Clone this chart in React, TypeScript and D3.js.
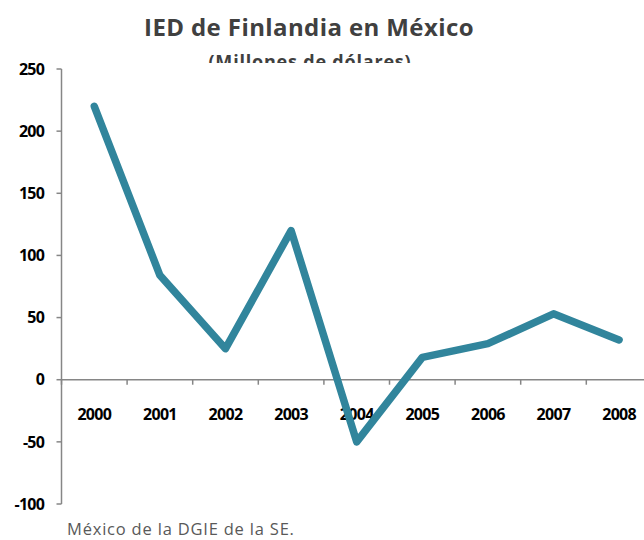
import * as d3 from 'd3'
import React from 'react'

const years = ['2000', '2001', '2002', '2003', '2004', '2005', '2006', '2007', '2008']
const ied = [220, 84, 25, 120, -50, 18, 29, 53, 32]
const yTicks = [250, 200, 150, 100, 50, 0, -50, -100]

const title = 'IED de Finlandia en México'
const subtitle = '(Millones de dólares)'
const footer = 'México de la DGIE de la SE.'

const App = (): JSX.Element => {
    const width = 644
    const height = 540
    const axisX = 61.5
    const font = '"Open Sans", sans-serif'

    const yScale = d3.scaleLinear().domain([-100, 250]).range([504, 69])
    const xScale = d3.scaleBand().domain(years).range([axisX, axisX + 65.6 * years.length])
    const zeroY = yScale(0)

    const line = d3
        .line<number>()
        .x((d, i) => (xScale(years[i]) as number) + xScale.bandwidth() / 2)
        .y((d) => yScale(d))

    // band boundaries for the category ticks
    const bounds = years.map((y) => xScale(y) as number).concat([xScale.range()[1]])

    return (
        <svg
            width={width}
            height={height}
            style={{ position: 'absolute', left: 0, top: 0, background: '#fff' }}
        >
            <defs>
                <clipPath id="sub-clip">
                    <rect x={0} y={0} width={width} height={63} />
                </clipPath>
            </defs>
            <text
                x={309}
                y={36}
                textAnchor="middle"
                fontFamily={font}
                fontWeight="bold"
                fontSize={24}
                letterSpacing={0.4}
                fill="#404040"
            >
                {title}
            </text>
            <text
                x={310}
                y={68}
                textAnchor="middle"
                fontFamily={font}
                fontWeight="bold"
                fontSize={18}
                letterSpacing={0.8}
                fill="#404040"
                clipPath="url(#sub-clip)"
            >
                {subtitle}
            </text>

            {/* y axis */}
            <line x1={axisX} x2={axisX} y1={yScale(250)} y2={yScale(-100)} stroke="#868686" strokeWidth={1.5} />
            {yTicks.map((t) => (
                <g key={t}>
                    <line x1={axisX - 5} x2={axisX} y1={yScale(t)} y2={yScale(t)} stroke="#868686" strokeWidth={1.5} />
                    <text
                        x={44}
                        y={yScale(t)}
                        dy="0.36em"
                        textAnchor="end"
                        fontFamily={font}
                        fontWeight="bold"
                        fontSize={16}
                        letterSpacing={-0.8}
                        fill="#000"
                    >
                        {t}
                    </text>
                </g>
            ))}

            {/* x axis at zero */}
            <line x1={axisX} x2={width} y1={zeroY} y2={zeroY} stroke="#868686" strokeWidth={1.5} />
            {bounds.map((b, i) => (
                <line key={i} x1={b} x2={b} y1={zeroY} y2={zeroY + 5} stroke="#868686" strokeWidth={1.5} />
            ))}
            {years.map((y) => (
                <text
                    key={y}
                    x={(xScale(y) as number) + xScale.bandwidth() / 2}
                    y={zeroY + 40}
                    textAnchor="middle"
                    fontFamily={font}
                    fontWeight="bold"
                    fontSize={16}
                    letterSpacing={-0.7}
                    fill="#000"
                >
                    {y}
                </text>
            ))}

            <path
                d={line(ied) as string}
                fill="none"
                stroke="#31859C"
                strokeWidth={7.5}
                strokeLinejoin="round"
                strokeLinecap="round"
            />

            <text x={67} y={535} fontFamily={font} fontSize={16.5} letterSpacing={0.8} fill="#595959">
                {footer}
            </text>
        </svg>
    )
}

export default App
